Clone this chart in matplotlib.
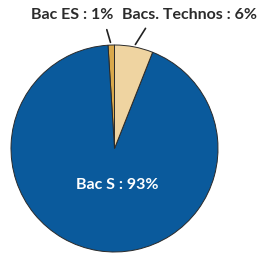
import numpy as np
import matplotlib.pyplot as plt

labels = ["Bac ES : 1%", "Bac S : 93%", "Bacs. Technos : 6%"]
shares = [1, 93, 6]
colors = ["#d9a84b", "#0a5a9c", "#efd4a1"]

W, H = 259, 257
CX, CY, R = 114.5, H - 148.5, 103.5

fig = plt.figure(figsize=(W / 100, H / 100), dpi=100)
ax = fig.add_axes([0, 0, 1, 1])

wedges, _ = ax.pie(shares, colors=colors, startangle=90, counterclock=True,
                   center=(CX, CY), radius=R, frame=True,
                   wedgeprops=dict(edgecolor="#2a2a2a", linewidth=0.7))
ax.set_xlim(0, W)
ax.set_ylim(0, H)
ax.axis("off")

font = dict(family=["Lato", "DejaVu Sans"], weight="bold")

# outside labels with leader lines (Bac ES, Technos)
text_pos = {0: (72, H - 15), 2: (190, H - 15)}
line_top = {0: (106, H - 27), 2: (147, H - 26)}
for i in (0, 2):
    w = wedges[i]
    mid = np.deg2rad((w.theta1 + w.theta2) / 2)
    edge = (CX + R * np.cos(mid), CY + R * np.sin(mid))
    ax.annotate("", xy=edge, xytext=line_top[i],
                arrowprops=dict(arrowstyle="-", color="#222222", lw=1.2))
    ax.text(*text_pos[i], labels[i], ha="center", va="center",
            fontsize=11.5, color="#2b2b2b", **font)

# inside label for Bac S
ax.text(117, H - 185, labels[1], ha="center", va="center",
        fontsize=11.5, color="white", **font)

fig.savefig("out.png", dpi=100)
